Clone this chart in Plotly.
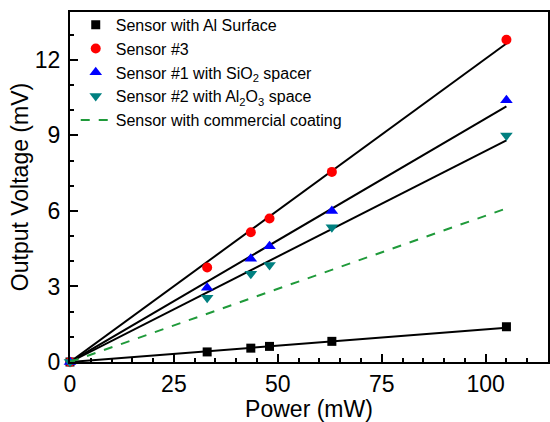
import plotly.graph_objects as go

power = [0, 33, 43.5, 48, 63, 105]
al_surface = [0, 0.40, 0.55, 0.62, 0.82, 1.40]
sensor3 = [0, 3.75, 5.15, 5.70, 7.55, 12.80]
sensor1 = [0, 2.95, 4.10, 4.60, 6.00, 10.40]
sensor2 = [0, 2.55, 3.50, 3.85, 5.35, 9.00]

fit_x = [0, 105]
fit_al = [0, 1.36]
fit_s3 = [0, 12.65]
fit_s1 = [0, 10.15]
fit_s2 = [0, 8.80]
commercial_x = [0, 105]
commercial_y = [0, 6.1]

FONT = "Liberation Sans, Arial"

fig = go.Figure()
for fy in [fit_al, fit_s3, fit_s1, fit_s2]:
    fig.add_trace(go.Scatter(x=fit_x, y=fy, mode="lines", line=dict(color="black", width=2),
                             showlegend=False, hoverinfo="skip"))

fig.add_trace(go.Scatter(x=power, y=al_surface, mode="markers", name="Sensor with Al Surface",
                         marker=dict(symbol="square", color="black", size=9)))
fig.add_trace(go.Scatter(x=power, y=sensor3, mode="markers", name="Sensor #3",
                         marker=dict(symbol="circle", color="#ff0000", size=10)))
fig.add_trace(go.Scatter(x=power, y=sensor1, mode="markers", name="Sensor #1 with SiO<sub>2</sub> spacer",
                         marker=dict(symbol="triangle-up", color="#0000ff", size=11)))
fig.add_trace(go.Scatter(x=power, y=sensor2, mode="markers", name="Sensor #2 with Al<sub>2</sub>O<sub>3</sub> space",
                         marker=dict(symbol="triangle-down", color="#008080", size=11)))
fig.add_trace(go.Scatter(x=commercial_x, y=commercial_y, mode="lines", name="Sensor with commercial coating",
                         line=dict(color="#1f9a3a", width=2, dash="dash")))

fig.update_traces(cliponaxis=False)

axis_common = dict(showline=True, linecolor="black", linewidth=2, mirror=True,
                   ticks="inside", ticklen=8, tickwidth=2, tickcolor="black",
                   showgrid=False, zeroline=False, automargin=False,
                   tickfont=dict(family=FONT, size=23, color="black"),
                   minor=dict(ticks="inside", ticklen=4, tickwidth=2, tickcolor="black"))

fig.update_xaxes(range=[0, 115], tickvals=[0, 25, 50, 75, 100], ticklabelstandoff=0, **axis_common,
                 title=dict(text="Power (mW)", font=dict(family=FONT, size=23, color="black"),
                            standoff=2))
fig.update_yaxes(range=[0, 13.9], tickvals=[0, 3, 6, 9, 12], ticklabelstandoff=3, **axis_common,
                 title=dict(text="Output Voltage (mV)", font=dict(family=FONT, size=23, color="black"),
                            standoff=0))

fig.update_layout(
    width=550, height=422,
    margin=dict(l=70, r=2, t=12, b=60),
    plot_bgcolor="white", paper_bgcolor="white",
    legend=dict(x=0.012, y=1.012, xanchor="left", yanchor="top", bgcolor="rgba(0,0,0,0)",
                font=dict(family=FONT, size=16, color="black"),
                tracegroupgap=0, itemwidth=30),
)

fig.write_html("out.html", post_script="document.body.style.margin='0';",
               config={"displayModeBar": False})
